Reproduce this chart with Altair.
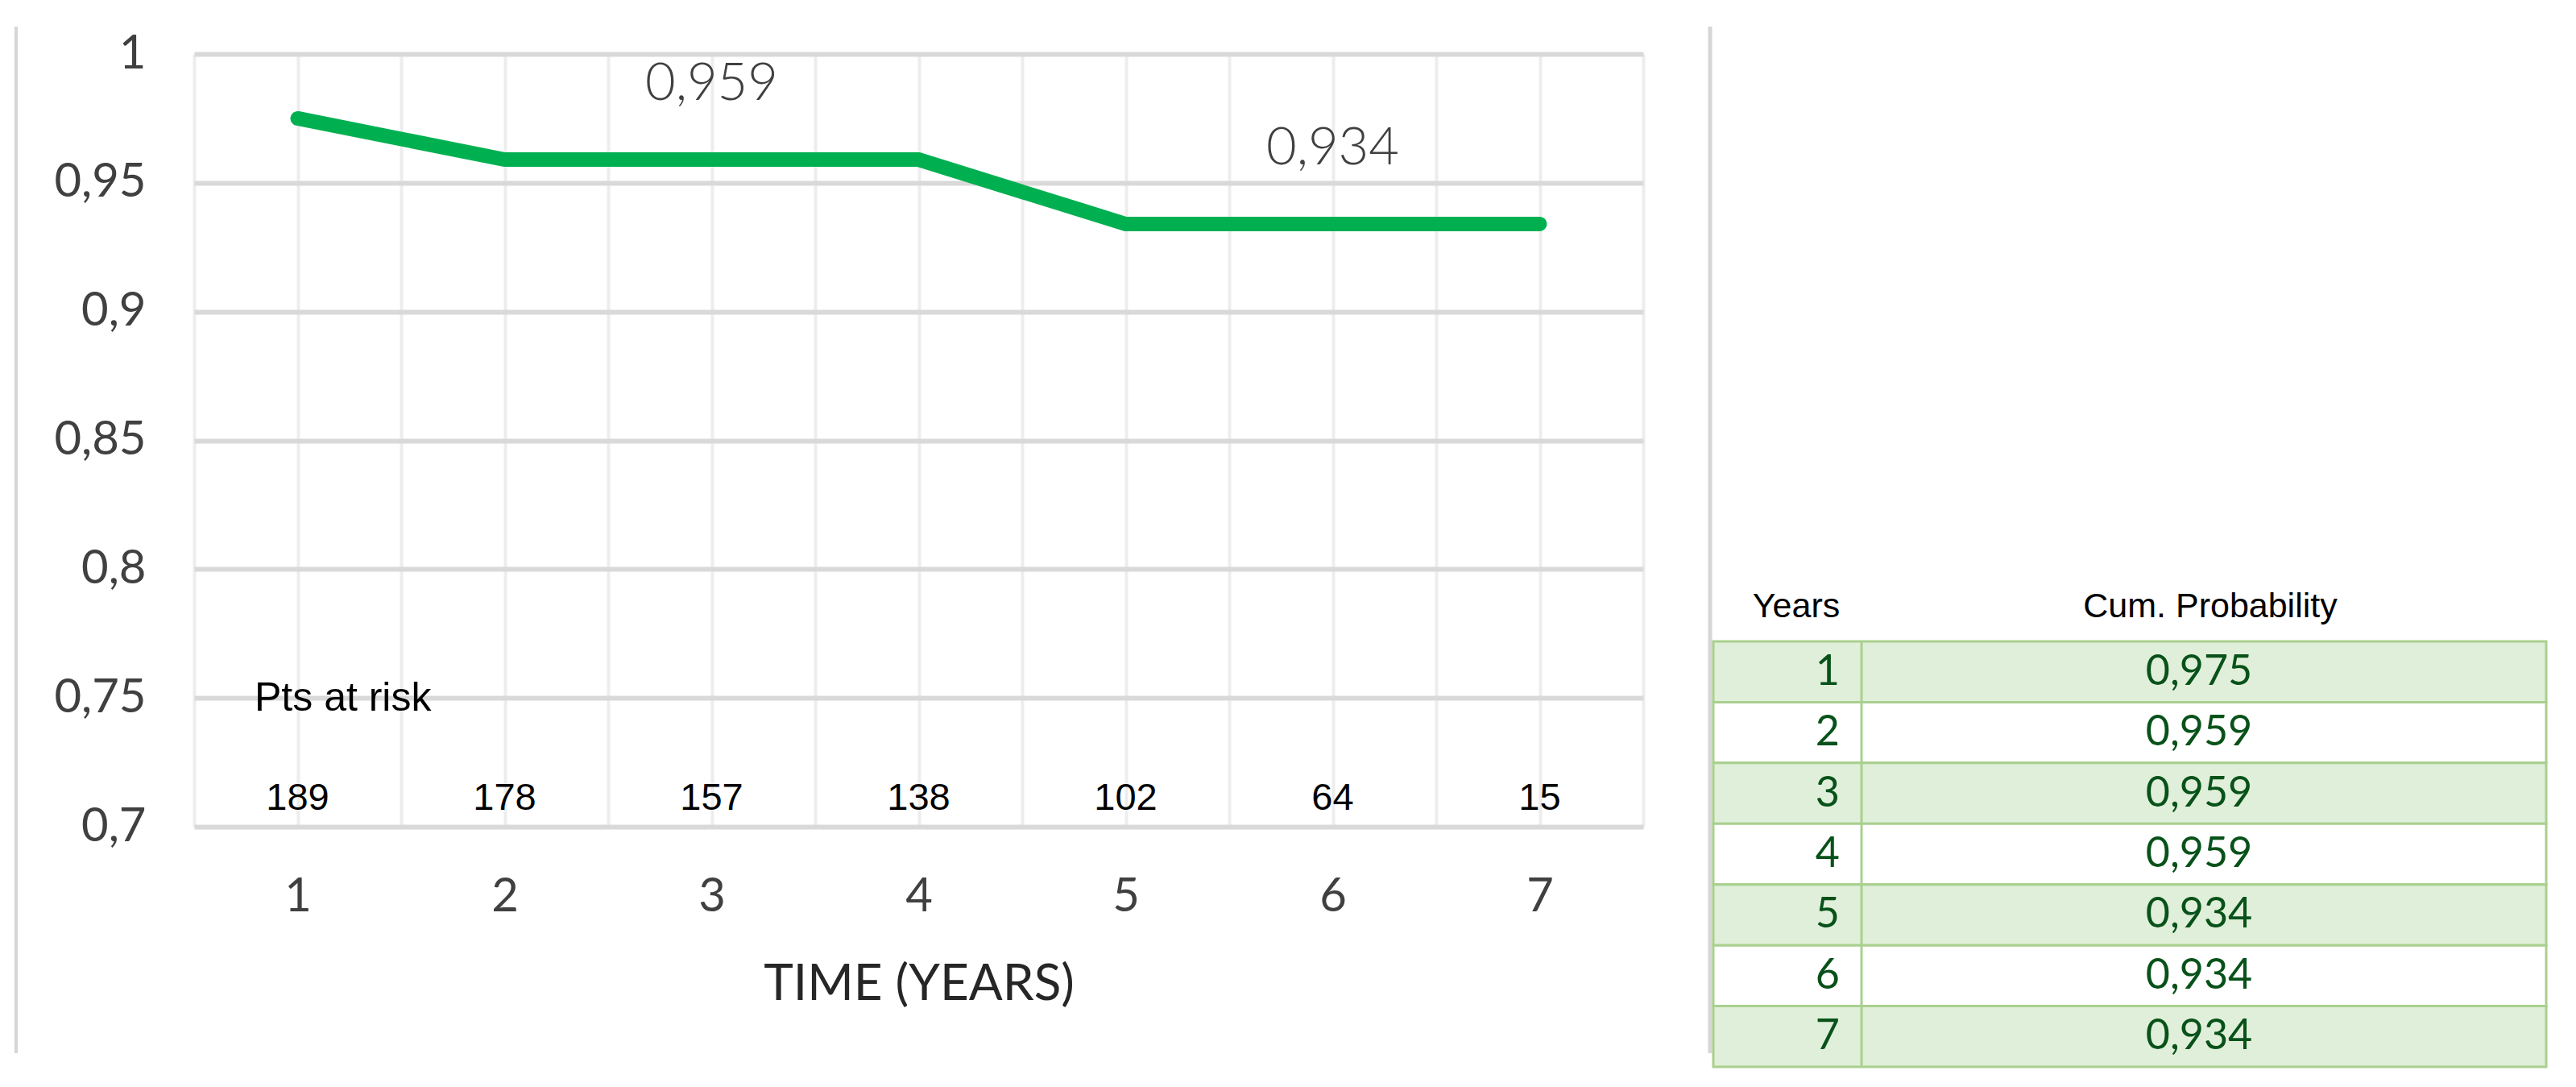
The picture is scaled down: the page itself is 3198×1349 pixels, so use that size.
import altair as alt
import pandas as pd

# ---- data ----
years = [1, 2, 3, 4, 5, 6, 7]
survival = [0.975, 0.959, 0.959, 0.959, 0.934, 0.934, 0.934]
at_risk = [189, 178, 157, 138, 102, 64, 15]
label_years = [3, 6]
table_headers = ["Years", "Cum. Probability"]
x_grid_values = [0.5, 1, 1.5, 2, 2.5, 3, 3.5, 4, 4.5, 5, 5.5, 6, 6.5, 7, 7.5]
y_grid_values = [0.7, 0.75, 0.8, 0.85, 0.9, 0.95, 1.0]

df = pd.DataFrame({"year": years, "surv": survival, "n": at_risk})
df_lab = df[df["year"].isin(label_years)]

W, H = 1799, 959
GREEN = "#00b050"
LABEL_FONT = "Lato"
ARIAL = "Liberation Sans"
TABLE_GREEN = "#08521a"

xs = alt.Scale(domain=[0.5, 7.5], nice=False, zero=False)
ys = alt.Scale(domain=[0.7, 1.0], nice=False, zero=False)

x_axis = alt.Axis(
    values=x_grid_values,
    labelExpr="datum.value % 1 == 0 ? format(datum.value, 'd') : ''",
    grid=True, gridColor="#ededed", gridWidth=4,
    domain=False, ticks=False, labelOverlap=False, labelFlush=False,
    labelFont=LABEL_FONT, labelFontSize=58, labelColor="#404040", labelPadding=58,
    title="TIME (YEARS)", titleFont=LABEL_FONT, titleFontSize=62,
    titleFontWeight="normal", titleColor="#262626", titlePadding=49,
)
y_axis = alt.Axis(
    values=y_grid_values,
    labelExpr="replace(format(datum.value, '.2~f'), '.', ',')",
    grid=True, gridColor="#d9d9d9", gridWidth=6,
    domain=False, ticks=False, labelOverlap=False, labelFlush=False,
    labelFont=LABEL_FONT, labelFontSize=58,
    labelColor="#404040", labelPadding=60,
    title=None,
)

base = alt.Chart(df)

line = base.mark_line(color=GREEN, strokeWidth=18, strokeCap="round").encode(
    x=alt.X("year:Q", scale=xs, axis=x_axis),
    y=alt.Y("surv:Q", scale=ys, axis=y_axis),
)

value_labels = alt.Chart(df_lab).transform_calculate(
    lab="replace(format(datum.surv, '.3f'), '.', ',')"
).mark_text(font=LABEL_FONT, fontSize=65, fontWeight=300, color="#404040", dy=-94, baseline="middle").encode(
    x=alt.X("year:Q", scale=xs),
    y=alt.Y("surv:Q", scale=ys),
    text="lab:N",
)

risk_numbers = base.mark_text(font=ARIAL, fontSize=47, color="#000000", baseline="middle").encode(
    x=alt.X("year:Q", scale=xs),
    y=alt.value(924),
    text="n:Q",
)

risk_title = alt.Chart(pd.DataFrame({"t": ["Pts at risk"]})).mark_text(
    font=ARIAL, fontSize=50, color="#000000", align="left", baseline="middle"
).encode(x=alt.value(75), y=alt.value(800), text="t:N")

left_border = alt.Chart(pd.DataFrame({"a": [0]})).mark_rule(color="#d6d6d6", strokeWidth=4).encode(
    x=alt.value(-221), y=alt.value(-34), y2=alt.value(1240)
)
separator = alt.Chart(pd.DataFrame({"a": [0]})).mark_rule(color="#d6d6d6", strokeWidth=5).encode(
    x=alt.value(1882), y=alt.value(-34), y2=alt.value(1240)
)

main = alt.layer(line, value_labels, risk_numbers, risk_title, left_border, separator)

# ---- table ----
row_scale = alt.Scale(range=[729, 1257], paddingInner=0, paddingOuter=0)
tbase = alt.Chart(df).transform_calculate(
    fill="datum.year % 2 == 1 ? '#e0efd9' : '#ffffff'",
    lab="replace(format(datum.surv, '.3f'), '.', ',')",
)

rows = tbase.mark_rect(stroke="#a9d08e", strokeWidth=3).encode(
    y=alt.Y("year:O", scale=row_scale, axis=None),
    x=alt.value(1886), x2=alt.value(2920),
    fill=alt.Fill("fill:N", scale=None),
)
divider = alt.Chart(pd.DataFrame({"a": [0]})).mark_rule(color="#a9d08e", strokeWidth=3).encode(
    x=alt.value(2070), y=alt.value(729), y2=alt.value(1257)
)
year_text = tbase.mark_text(font=LABEL_FONT, fontSize=52, color=TABLE_GREEN, align="right", baseline="middle").encode(
    y=alt.Y("year:O", scale=row_scale, axis=None),
    x=alt.value(2043),
    text="year:N",
)
prob_text = tbase.mark_text(font=LABEL_FONT, fontSize=52, color=TABLE_GREEN, align="center", baseline="middle").encode(
    y=alt.Y("year:O", scale=row_scale, axis=None),
    x=alt.value(2489),
    text="lab:N",
)
hdr_df = pd.DataFrame({"h": table_headers})
hdr_years = alt.Chart(hdr_df).transform_filter("datum.h == 'Years'").mark_text(
    font=ARIAL, fontSize=43, color="#000000", align="center", baseline="middle"
).encode(x=alt.value(1989), y=alt.value(686), text="h:N")
hdr_prob = alt.Chart(hdr_df).transform_filter("datum.h != 'Years'").mark_text(
    font=ARIAL, fontSize=43, color="#000000", align="center", baseline="middle"
).encode(x=alt.value(2503), y=alt.value(686), text="h:N")

table = alt.layer(rows, divider, year_text, prob_text, hdr_years, hdr_prob)

chart = alt.layer(main, table).resolve_scale(y="independent").properties(
    width=W, height=H,
    autosize=alt.AutoSizeParams(type="none"),
    padding={"left": 233, "top": 59, "right": 1148, "bottom": 322},
    background="#ffffff",
).configure_view(stroke=None)

chart.save("out.html", embed_options={"renderer": "svg", "actions": False})
